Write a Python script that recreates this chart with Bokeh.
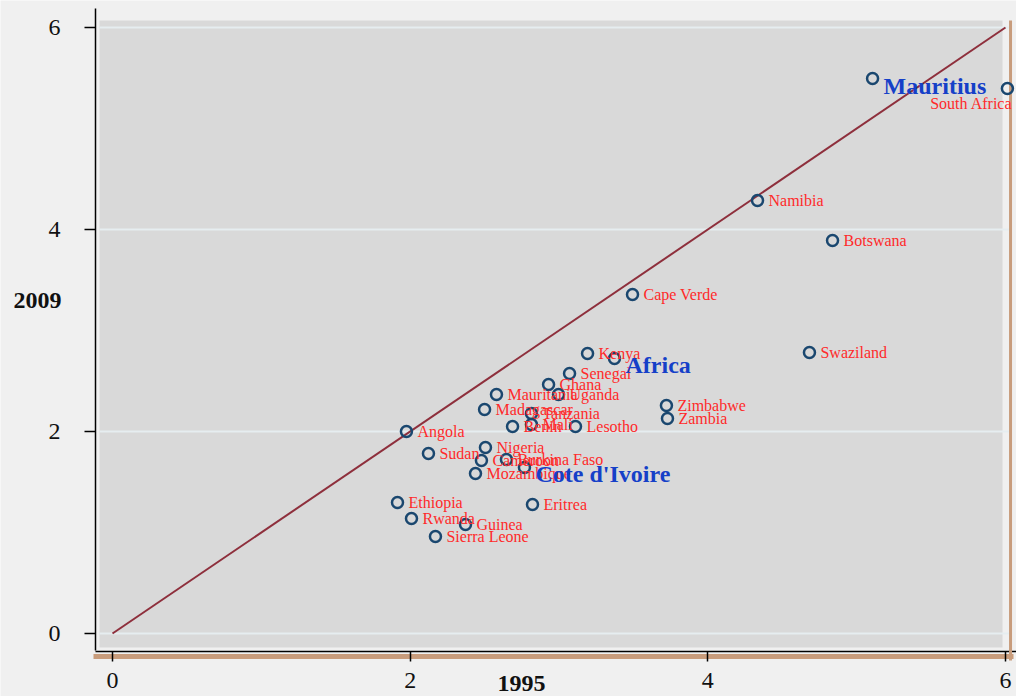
from bokeh.plotting import figure
from bokeh.models import Range1d, FixedTicker, BoxAnnotation, Label, ColumnDataSource
from bokeh.core.properties import value
from bokeh.embed import file_html
from bokeh.resources import INLINE

# ---- data (1995 vs 2009) ----
countries = ["Mauritius", "South Africa", "Namibia", "Botswana", "Cape Verde", "Swaziland",
             "Kenya", "Africa", "Senegal", "Ghana", "Uganda", "Mauritania", "Madagascar",
             "Tanzania", "Mali", "Benin", "Lesotho", "Zimbabwe", "Zambia", "Angola", "Sudan",
             "Nigeria", "Cameroon", "Burkina Faso", "Cote d'Ivoire", "Mozambique", "Ethiopia",
             "Eritrea", "Rwanda", "Guinea", "Sierra Leone"]
val1995 = [5.107, 6.013, 4.334, 4.838, 3.494, 4.683,
           3.192, 3.373, 3.071, 2.930, 2.997, 2.580, 2.500,
           2.815, 2.815, 2.688, 3.111, 3.722, 3.729, 1.975, 2.123,
           2.506, 2.479, 2.647, 2.768, 2.439, 1.915,
           2.822, 2.009, 2.372, 2.170]
val2009 = [5.495, 5.396, 4.287, 3.891, 3.356, 2.782,
           2.772, 2.723, 2.574, 2.465, 2.366, 2.366, 2.218,
           2.178, 2.069, 2.050, 2.050, 2.257, 2.129, 2.000, 1.782,
           1.842, 1.713, 1.723, 1.644, 1.584, 1.297,
           1.277, 1.139, 1.079, 0.960]
highlight = ["Mauritius", "Africa", "Cote d'Ivoire"]
below_left = ["South Africa"]
diag = [0, 6]
ticks = [0, 2, 4, 6]
x_title = "1995"
y_title = "2009"

# ---- styles ----
BG = "#f0f0f0"
PLOT_BG = "#d9d9d9"
GRID = "#e6edf0"
TAN = "#c89c7c"
NAVY = "#1a476f"
MAROON = "#8e2f3c"
RED = "#ff2a2a"
BLUE = "#1540c8"
SERIF = "Liberation Serif"

# whole canvas is the frame; axes are fixed inside it
p = figure(width=1016, height=696, output_backend="svg", toolbar_location=None,
           x_range=Range1d(-0.7525, 6.0741), y_range=Range1d(-0.6238, 6.2673),
           min_border=0)
p.background_fill_color = BG
p.border_fill_color = BG
p.outline_line_color = None

# gray plot region
p.add_layout(BoxAnnotation(left=-0.0873, right=5.980, bottom=-0.139, top=6.069,
                           fill_color=PLOT_BG, fill_alpha=1, line_color=None, level="image"))

# horizontal grid lines
p.segment(x0=[-0.0873] * len(ticks), y0=ticks, x1=[6.034] * len(ticks), y1=ticks,
          line_color=GRID, line_width=2)
p.xgrid.visible = False
p.ygrid.visible = False

# axes
for ax in (p.xaxis, p.yaxis):
    ax.ticker = FixedTicker(ticks=ticks)
    ax.minor_tick_line_color = None
    ax.major_label_text_font = SERIF
    ax.major_label_text_font_size = "24px"
    ax.major_label_text_color = "#111111"
    ax.major_tick_line_color = "black"
    ax.major_tick_line_width = 1.5

p.xaxis.fixed_location = -0.277
p.xaxis.axis_line_color = None
p.xaxis.major_tick_in = 10
p.xaxis.major_tick_out = 0
p.xaxis.major_label_standoff = 12
p.xaxis.major_label_text_align = "right"

p.yaxis.fixed_location = -0.1142
p.yaxis.bounds = (-0.168, 6.188)
p.yaxis.axis_line_color = "black"
p.yaxis.axis_line_width = 1.5
p.yaxis.major_tick_out = 11
p.yaxis.major_tick_in = 0
p.yaxis.major_label_standoff = 24

# black bottom axis line and tan frame lines
p.segment(x0=-0.1276, y0=-0.2277, x1=6.054, y1=-0.2277, line_color=TAN, line_width=5)
p.segment(x0=-0.1142, y0=-0.178, x1=6.0741, y1=-0.178, line_color="black", line_width=1.5)
p.segment(x0=6.034, y0=6.069, x1=6.034, y1=-0.267, line_color=TAN, line_width=3)

# 45-degree line
p.line(diag, diag, line_color=MAROON, line_width=2)

# points
src = ColumnDataSource(dict(x=val1995, y=val2009, name=countries))
p.scatter("x", "y", source=src, marker="circle", size=11, fill_color=None,
          line_color=NAVY, line_width=2.5)

def subset(pred):
    idx = [i for i, c in enumerate(countries) if pred(c)]
    return ColumnDataSource(dict(x=[val1995[i] for i in idx], y=[val2009[i] for i in idx],
                                 name=[countries[i] for i in idx]))

red_src = subset(lambda c: c not in highlight and c not in below_left)
p.text("x", "y", text="name", source=red_src, x_offset=11, y_offset=0,
       text_baseline="middle", text_align="left", text_font=value(SERIF),
       text_font_size="16px", text_color=RED)

sa_src = subset(lambda c: c in below_left)
p.text("x", "y", text="name", source=sa_src, x_offset=5, y_offset=15,
       text_baseline="middle", text_align="right", text_font=value(SERIF),
       text_font_size="16px", text_color=RED)

hl_src = subset(lambda c: c in highlight)
p.text("x", "y", text="name", source=hl_src, x_offset=11, y_offset=7,
       text_baseline="middle", text_align="left", text_font=value(SERIF),
       text_font_size="24px", text_font_style="bold", text_color=BLUE)

# axis titles
p.add_layout(Label(x=2.748, y=-0.495, text=x_title, text_font=SERIF, text_font_size="24px",
                   text_font_style="bold", text_align="center", text_baseline="middle",
                   text_color="#111111"))
p.add_layout(Label(x=-0.504, y=3.297, text=y_title, text_font=SERIF, text_font_size="24px",
                   text_font_style="bold", text_align="center", text_baseline="middle",
                   text_color="#111111"))

open("out.html", "w").write(file_html(p, INLINE))
